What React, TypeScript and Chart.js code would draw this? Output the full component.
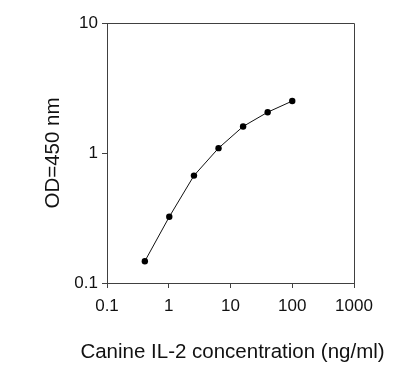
import React, { useEffect, useRef } from "react";
import { Chart, registerables } from "chart.js";

Chart.register(...registerables);

const concentrations = [0.41, 1.02, 2.56, 6.4, 16, 40, 100];
const odValues = [0.147, 0.323, 0.67, 1.09, 1.6, 2.06, 2.51];
const xTickValues = [0.1, 1, 10, 100, 1000];
const yTickValues = [0.1, 1, 10];
const xTitle = "Canine IL-2 concentration (ng/ml)";
const yTitle = "OD=450 nm";

const FONT = "Arial, Helvetica, sans-serif";
const AXIS = "#404040";

const boxPlugin = {
  id: "boxPlugin",
  afterDraw(chart: any) {
    const { ctx, chartArea } = chart;
    const l = Math.round(chartArea.left) + 0.5;
    const r = Math.round(chartArea.right) + 0.5;
    const t = Math.round(chartArea.top) + 0.5;
    const b = Math.round(chartArea.bottom) + 0.5;
    ctx.save();
    ctx.strokeStyle = AXIS;
    ctx.lineWidth = 1;
    ctx.beginPath();
    ctx.moveTo(l, t);
    ctx.lineTo(r, t);
    ctx.lineTo(r, b);
    ctx.stroke();
    // x axis title (drawn here so it is not squeezed to the axis width)
    ctx.fillStyle = "#111";
    ctx.font = "20.5px " + FONT;
    ctx.textAlign = "center";
    ctx.textBaseline = "middle";
    ctx.fillText(xTitle, (chartArea.left + chartArea.right) / 2 + 2, 352);
    ctx.restore();
  },
};

function keepTicks(values: number[]) {
  return (scale: any) => {
    scale.ticks = values.map((v) => ({ value: v }));
  };
}

export default function App() {
  const ref = useRef<HTMLCanvasElement | null>(null);
  useEffect(() => {
    document.body.style.margin = "0";
    const canvas = ref.current;
    if (!canvas) return;
    const chart = new Chart(canvas, {
      type: "scatter",
      data: {
        datasets: [
          {
            data: concentrations.map((x, i) => ({ x, y: odValues[i] })),
            showLine: true,
            borderColor: "#111",
            borderWidth: 1,
            backgroundColor: "#000",
            pointBackgroundColor: "#000",
            pointBorderColor: "#000",
            pointRadius: 3.2,
            pointBorderWidth: 0,
          },
        ],
      },
      options: {
        responsive: false,
        animation: false,
        layout: { padding: { left: 0, top: 23, right: 64, bottom: 0 } },
        plugins: { legend: { display: false }, tooltip: { enabled: false } },
        scales: {
          x: {
            type: "logarithmic",
            min: 0.1,
            max: 1000,
            afterBuildTicks: keepTicks(xTickValues),
            afterFit: (s: any) => {
              s.height = 96;
            },
            grid: { drawOnChartArea: false, color: AXIS, tickLength: 5 },
            border: { color: AXIS },
            ticks: {
              autoSkip: false,
              maxRotation: 0,
              padding: 8,
              color: "#111",
              font: { family: FONT, size: 17 },
              callback: (v: any) => String(v),
            },
            title: { display: false, text: xTitle },
          },
          y: {
            type: "logarithmic",
            min: 0.1,
            max: 10,
            afterBuildTicks: keepTicks(yTickValues),
            afterFit: (s: any) => {
              s.width = 107;
            },
            grid: { drawOnChartArea: false, color: AXIS, tickLength: 5 },
            border: { color: AXIS },
            ticks: {
              autoSkip: false,
              padding: 4,
              color: "#111",
              font: { family: FONT, size: 17 },
              callback: (v: any) => String(v),
            },
            title: {
              display: true,
              text: yTitle,
              color: "#111",
              font: { family: FONT, size: 20.5 },
              padding: { top: 41, bottom: 0 },
            },
          },
        },
      },
      plugins: [boxPlugin],
    });
    return () => chart.destroy();
  }, []);
  return <canvas ref={ref} width={418} height={379} style={{ display: "block" }} />;
}
